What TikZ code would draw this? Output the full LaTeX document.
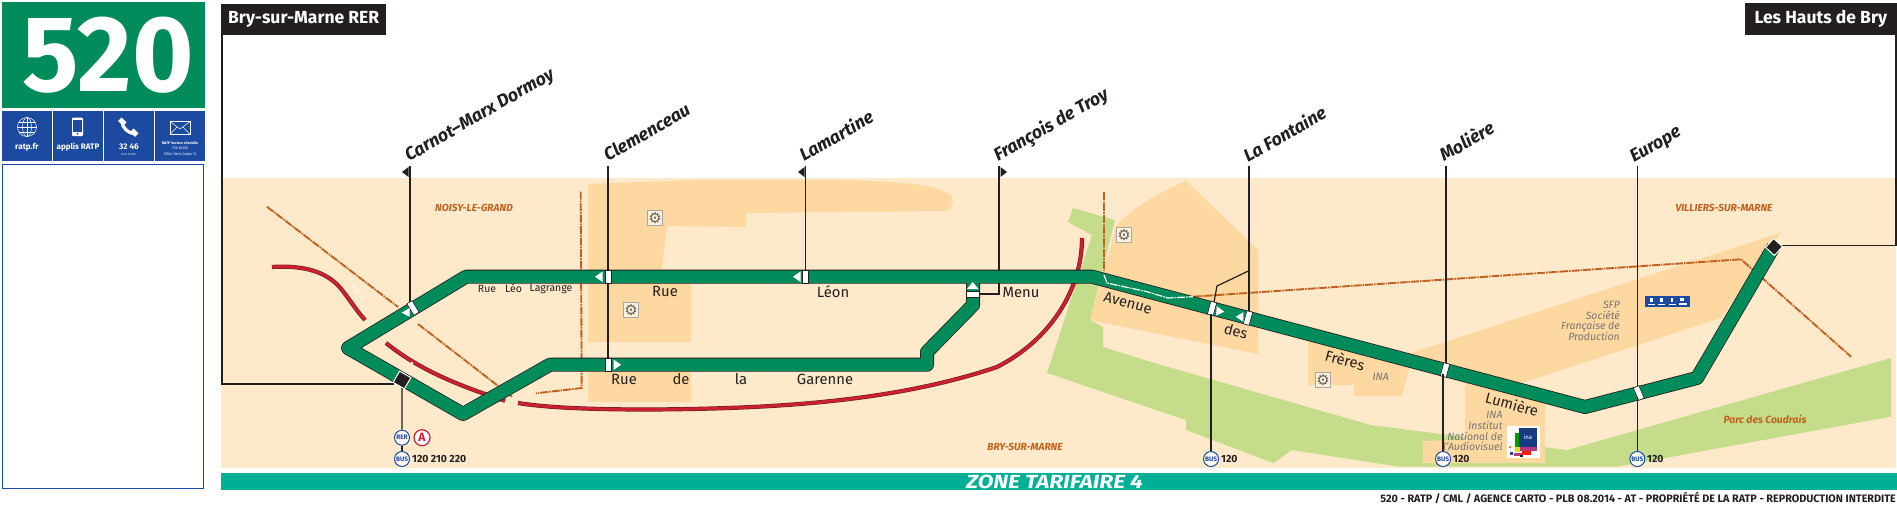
\documentclass[tikz,border=0pt]{standalone}
\usepackage{fontspec}
\setmainfont{Fira Sans}
\newfontfamily\dejavu{DejaVu Sans}
\usetikzlibrary{calc}
\definecolor{lgreen}{HTML}{008C5A}
\definecolor{rblue}{HTML}{1C4AA0}
\definecolor{ink}{HTML}{231F20}
\definecolor{bgb}{HTML}{FEE9CB}
\definecolor{dkb}{HTML}{FDD8A0}
\definecolor{park}{HTML}{C5DD8A}
\definecolor{orng}{HTML}{C0621E}
\definecolor{redl}{HTML}{CC2030}
\definecolor{teal}{HTML}{00B096}
\definecolor{greyt}{HTML}{757575}
\newcommand{\fsz}[1]{\fontsize{#1}{#1}\selectfont}
\tikzset{
  x=1pt,y=-1pt,
  stem/.style={draw=ink,line width=1.2pt},
  stopbox/.style={draw=ink,fill=white,line width=.6pt,minimum width=6pt,minimum height=13.5pt,inner sep=0pt},
  termstop/.style={draw=white,fill=ink,line width=1pt,minimum width=13pt,minimum height=13pt,inner sep=0pt},
  wtri/.style={fill=white,draw=none},
  flagtri/.style={fill=ink,draw=none},
  stationlabel/.style={rotate=30,anchor=base west,inner sep=0pt,font=\fsz{17.8}\bfseries\itshape,text=ink},
  termlabel/.style={fill=ink,text=white,inner sep=0pt,font=\fsz{17.5}\bfseries},
  street/.style={inner sep=0pt,text=ink,font=\fsz{14.8}},
  smallstreet/.style={inner sep=0pt,text=ink,font=\fsz{10.5}},
  city/.style={inner sep=0pt,text=orng,font=\fsz{10.2}\bfseries\itshape},
  poi/.style={inner sep=0pt,text=greyt,font=\fsz{10.5}\itshape,align=right},
  oline/.style={draw=orng,line width=1.9pt,dash pattern=on 8pt off 1pt on 1.5pt off 1pt},
  redout/.style={draw=ink!60!redl,line width=4.2pt},
  redin/.style={draw=redl,line width=3pt},
  gearbox/.style={draw=gray!70,fill=bgb!70,line width=.6pt,minimum size=15pt,inner sep=0pt,font=\fsz{15}\dejavu,text=greyt!85!black},
  buscirc/.style={circle,draw=rblue,fill=white,line width=1pt,minimum size=15pt,inner sep=0pt,text=rblue,font=\fsz{6.5}\bfseries},
  rercirc/.style={circle,draw=redl,fill=white,line width=1.2pt,minimum size=16pt,inner sep=0pt,text=redl,font=\fsz{12}\bfseries},
  busnum/.style={inner sep=0pt,anchor=west,text=ink,font=\fsz{10.4}\bfseries},
  panel/.style={fill=rblue,draw=none},
  paneltext/.style={inner sep=0pt,text=white,font=\fsz{8.2}\bfseries},
  tiny/.style={inner sep=0pt,text=white,font=\fsz{3.6}\bfseries},
}
\begin{document}
\begin{tikzpicture}
\useasboundingbox (0,0) rectangle (1897,504);
\fill[white] (0,0) rectangle (1897,504);
% ---- left column
\fill[lgreen] (2,2) rectangle (205,108);
\node[inner sep=0pt,text=white,font=\fsz{108}\bfseries,xscale=.975] (num) at (108,55) {520};
\fill[panel] (2,111) rectangle (52,161);
\fill[panel] (53,111) rectangle (103,161);
\fill[panel] (104,111) rectangle (154,161);
\fill[panel] (155,111) rectangle (205,161);
% globe
\begin{scope}[draw=white,line width=.5pt]
\draw (27,127) circle [radius=9.5pt];
\draw (27,127) ellipse [x radius=4.5pt,y radius=9.5pt];
\draw (27,117.5) -- (27,136.5);
\draw (17.5,127) -- (36.5,127);
\draw (19,122) -- (35,122);
\draw (19,132) -- (35,132);
\end{scope}
% mobile
\fill[white,rounded corners=1pt] (72,117.5) rectangle (83,136);
\fill[rblue] (73.3,120) rectangle (81.7,131.5);
\fill[rblue] (77.5,133.7) circle [radius=1pt];
% handset
\draw[white,line width=3.2pt] (122,121) .. controls (122,128) and (128,133) .. (135,134);
\fill[white,rotate around={-45:(122,122)}] (118.5,119) rectangle (125.5,124);
\fill[white,rotate around={-45:(134,133)}] (130.5,130) rectangle (137.5,135);
% envelope
\draw[white,line width=.5pt] (170,121.5) rectangle (190,134.5);
\draw[white,line width=.5pt] (170,121.5) -- (180,129) -- (190,121.5);
\draw[white,line width=.5pt] (170,134.5) -- (177,127);
\draw[white,line width=.5pt] (190,134.5) -- (183,127);
\node[paneltext] (t1) at (27,147) {ratp.fr};
\node[paneltext,font=\fsz{8}\bfseries] (t2) at (78,147) {applis RATP};
\node[paneltext] (t3) at (129,147) {32 46};
\node[tiny,font=\fsz{3}] (t3b) at (129,154.3) {0,34 €/min};
\node[tiny] (t4) at (180,143.3) {RATP Service clientèle};
\node[tiny,font=\fsz{3.6}] (t4b) at (180,148.5) {TSA 81250};
\node[tiny,font=\fsz{3.6}] (t4c) at (180,154) {75564 Paris Cedex 12};
\draw[draw=rblue,line width=1.2pt,fill=white] (2.8,164.5) rectangle (203.8,488.5);
% ---- map ground
\fill[bgb] (221,178) rectangle (1896,468);
% green spaces
\fill[park] (1073,208) -- (1115,220) -- (1090,320) -- (1103,327) -- (1103,347) -- (1150,361.7) -- (1370.6,425) -- (1465,437) -- (1567,450) -- (1891,358) -- (1891,416.7) -- (1617.6,466.7) -- (1399,466.7) -- (1291.5,450) -- (1273.7,463.3) -- (1186,430) -- (1186,420) -- (1150,408) -- (1047,373) -- (1092,235) -- (1068,222) -- cycle;
% built-up areas
\fill[dkb] (588,184) -- (700,180) -- (813,180) .. controls (900,180) and (953,185) .. (953,200) .. controls (953,207) and (948,211) .. (943,211) -- (746,213) -- (746,227) -- (667,226) -- (660,283) -- (588,283) -- cycle;
\fill[dkb] (588,283) rectangle (691,342);
\fill[dkb] (588,365) rectangle (691,402);
\fill[dkb] (1186,180.7) .. controls (1160,192) and (1125,212) .. (1116,227) -- (1090,320) -- (1258,354) -- (1258,250) -- cycle;
\fill[dkb] (1308,335) -- (1410,365) -- (1402,396) -- (1354,396) -- (1354,385) -- (1308,385) -- cycle;
\fill[dkb] (1780.7,232.7) -- (1411,353) -- (1450,375) -- (1521.7,383) -- (1720.7,318) -- cycle;
\fill[dkb] (1465,383) -- (1545,403) -- (1545,463) -- (1423,463) -- (1423,441) -- (1465,440) -- cycle;
% commune limits
\coordinate (oa) at (267,206.7); \coordinate (ob) at (398,307);
\coordinate (oc) at (418,324);   \coordinate (od) at (512,396.7);
\coordinate (oe) at (580.7,191.7); \coordinate (of) at (581.7,388); \coordinate (og) at (536,393.3);
\coordinate (oh) at (1104,191.7); \coordinate (oi) at (1104,271.7);
\coordinate (oj) at (1193,296.7); \coordinate (ok) at (1741,259.3); \coordinate (ol) at (1851,356.7);
\draw[oline] (oa) -- (ob);
\draw[oline] (oc) -- (od);
\draw[oline] (oe) -- (of) -- (og);
\draw[oline] (oh) -- (oi);
\draw[oline] (oj) -- (ok) -- (ol);
% railway
\foreach \s in {redout,redin}{
 \draw[\s] (272,267) .. controls (305,265) and (328,272) .. (342,290) .. controls (350,300) and (356,310) .. (365,320);
 \draw[\s] (386,343) .. controls (410,362) and (440,380) .. (505,400.7);
 \draw[\s] (518,403) .. controls (560,410) and (640,410) .. (690,409) .. controls (800,407) and (905,398) .. (997,367) .. controls (1050,340) and (1082,290) .. (1082,238);
}
\fill[white] (412,363) circle [radius=1.4pt];
\node[inner sep=0pt,rotate=-55,text=white,font=\fsz{7}\itshape] (sncf) at (358,292) {SNCF};
% stems
\coordinate (tCarnot) at (410,166);   \coordinate (fCarnot) at (410,302);
\coordinate (tClem) at (608,166);     \coordinate (fClem) at (608,358);
\coordinate (tLam) at (805.3,166);    \coordinate (fLam) at (805.3,271);
\coordinate (tFran) at (999,166);     \coordinate (fFran) at (999,271);
\coordinate (tFont) at (1249,166);    \coordinate (fFont) at (1249,312);
\coordinate (tMol) at (1446,166);     \coordinate (fMol) at (1446,368);
\coordinate (tEur) at (1637.3,166);   \coordinate (fEur) at (1637.3,388);
\draw[stem] (tCarnot) -- (fCarnot);
\draw[stem] (tClem) -- (fClem);
\draw[stem] (tLam) -- (fLam);
\draw[stem] (tFran) -- (fFran);
\draw[stem] (tFont) -- (fFont);
\draw[stem] (tMol) -- (fMol);
\draw[stem] (tEur) -- (fEur);
\coordinate (ta) at (222,35); \coordinate (tb) at (222,384); \coordinate (tc) at (394,384);
\draw[stem] (ta) -- (tb) -- (tc);
\coordinate (td) at (1896,35); \coordinate (te) at (1896,245.3); \coordinate (tf) at (1781,245.3);
\draw[stem] (td) -- (te) -- (tf);
% lower stems
\coordinate (sf) at (1211,314); \coordinate (sm) at (1443,374); \coordinate (se) at (1637.3,397);
% bus line
\coordinate (la) at (1773.5,247); \coordinate (lb) at (1697,378); \coordinate (lc) at (1585,407);
\coordinate (ld) at (1092,276.7); \coordinate (le) at (466,276.7); \coordinate (lf) at (348,348);
\coordinate (lg) at (463,414);    \coordinate (lh) at (550,364.7); \coordinate (li) at (927,364.7);
\coordinate (lj) at (927,352);    \coordinate (lk) at (973,305);   \coordinate (lm) at (973,276.7);
\draw[ink,line width=14pt,line join=round] (la) -- (lb) -- (lc) -- (ld) -- (le) -- (lf) -- (lg) -- (lh) -- (li) -- (lj) -- (lk) -- (lm);
\draw[lgreen,line width=12.4pt,line join=round] (la) -- (lb) -- (lc) -- (ld) -- (le) -- (lf) -- (lg) -- (lh) -- (li) -- (lj) -- (lk) -- (lm);
% commune limit over the line
\coordinate (wa) at (1104,275); \coordinate (wb) at (1107,283); \coordinate (wc) at (1147,291.7); \coordinate (wd) at (1168,298);
\draw[white,line width=1.2pt,dash pattern=on 8pt off 1pt on 1.5pt off 1pt] (wa) -- (wb) -- (wc) -- (wd) -- (oj);
% stops
\node[stopbox,rotate=31] (sCarnot) at (413,308) {};
\node[stopbox] (sClemA) at (608,276.7) {};
\node[stopbox] (sClemB) at (608,364.7) {};
\node[stopbox] (sLam) at (805.3,276.7) {};
\node[stopbox,rotate=90] (sFran) at (972.7,294.5) {};
\node[stopbox,rotate=-15] (sFontA) at (1212,308.5) {};
\node[stopbox,rotate=-15] (sFontB) at (1248,318) {};
\node[stopbox,rotate=-15] (sMol) at (1445,370) {};
\node[stopbox,rotate=23] (sEur) at (1638.7,393) {};
\node[termstop,rotate=-30] (sBry) at (402,380) {};
\node[termstop,rotate=-42,minimum width=12pt,minimum height=12pt] (sHauts) at (1774,247) {};
% direction arrows
\fill[wtri] (401.7,312.7) -- (409.5,308) -- (409.5,316.7) -- cycle;
\fill[wtri] (595,276.7) -- (602.5,271.5) -- (602.5,282) -- cycle;
\fill[wtri] (621,364.7) -- (613.5,359.5) -- (613.5,370) -- cycle;
\fill[wtri] (793,276.7) -- (800.5,271.5) -- (800.5,282) -- cycle;
\fill[wtri] (972.7,282) -- (978.5,289) -- (966.9,289) -- cycle;
\fill[wtri] (1216.7,306) -- (1224.3,311.7) -- (1216,315.7) -- cycle;
\fill[wtri] (1235.7,316.7) -- (1243.3,312.3) -- (1243.3,321.7) -- cycle;
% flags
\fill[flagtri] (402,172) -- (408.5,167) -- (408.5,177) -- cycle;
\fill[flagtri] (798,172) -- (804.5,167) -- (804.5,177) -- cycle;
\fill[flagtri] (1007,172) -- (1000.5,167) -- (1000.5,177) -- cycle;
% menu connector and other links
\coordinate (ma) at (980,294); \coordinate (mb) at (999,294); \coordinate (mc) at (999,283);
\draw[stem] (ma) -- (mb) -- (mc);
\coordinate (fa) at (1249,270.7); \coordinate (fb) at (1217,286); \coordinate (fc) at (1214,302);
\draw[stem] (fa) -- (fb) -- (fc);
% bus badges
\node[buscirc] (bBry) at (402,459) {BUS};
\node[buscirc] (rer) at (402,437.7) {RER};
\node[rercirc] (rerA) at (422,437.7) {A};
\node[buscirc] (bFont) at (1211,459) {BUS};
\node[buscirc] (bMol) at (1443,459) {BUS};
\node[buscirc] (bEur) at (1637.3,459) {BUS};
\draw[stem] (sBry) -- (rer);
\draw[stem] (rer) -- (bBry);
\draw[stem] (sf) -- (bFont);
\draw[stem] (sm) -- (bMol);
\draw[stem] (se) -- (bEur);
\node[busnum] (n1) at (412,458.5) {120 210 220};
\node[busnum] (n2) at (1221,459) {120};
\node[busnum] (n3) at (1453,459) {120};
\node[busnum] (n4) at (1647,459) {120};
% station names
\node[stationlabel] (lCarnot) at (409,162) {Carnot–Marx Dormoy};
\node[stationlabel] (lClem) at (608,162) {Clemenceau};
\node[stationlabel] (lLam) at (804,162) {Lamartine};
\node[stationlabel] (lFran) at (998,162) {François de Troy};
\node[stationlabel] (lFont) at (1248,163) {La Fontaine};
\node[stationlabel] (lMol) at (1444,162) {Molière};
\node[stationlabel] (lEur) at (1634,163) {Europe};
% terminals
\node[termlabel,anchor=north west,minimum width=165pt,minimum height=31pt] (termA) at (221,4) {Bry-sur-Marne RER};
\node[termlabel,anchor=north east,minimum width=152pt,minimum height=32pt] (termB) at (1897,3) {Les Hauts de Bry};
% streets
\node[smallstreet] (r1) at (487,288.5) {Rue};
\node[smallstreet] (r2) at (513.5,288.5) {Léo};
\node[smallstreet] (r3) at (551,288.5) {Lagrange};
\node[street] (r4) at (665,291) {Rue};
\node[street] (r5) at (833,292) {Léon};
\node[street] (r6) at (1021,292) {Menu};
\node[street] (r7) at (624,379) {Rue};
\node[street] (r8) at (681,379) {de};
\node[street] (r9) at (741,379) {la};
\node[street] (r10) at (825,379) {Garenne};
\node[street,rotate=-15] (r11) at (1128,303) {Avenue};
\node[street,rotate=-15] (r12) at (1236,331) {des};
\node[street,rotate=-15] (r13) at (1345,360) {Frères};
\node[street,rotate=-15] (r14) at (1512,404) {Lumière};
% places
\node[city] (c1) at (474,207.7) {NOISY-LE-GRAND};
\node[city] (c2) at (1025,446.7) {BRY-SUR-MARNE};
\node[city] (c3) at (1724,207.7) {VILLIERS-SUR-MARNE};
\node[city,font=\fsz{10.4}\itshape\bfseries] (c4) at (1765,419) {Parc des Coudrais};
\node[poi,anchor=east] (p1) at (1620,305) {SFP};
\node[poi,anchor=east] (p2) at (1620,315.7) {Société};
\node[poi,anchor=east] (p3) at (1620,326.7) {Française de};
\node[poi,anchor=east] (p4) at (1620,336.7) {Production};
\node[poi] (p5) at (1380.7,377) {INA};
\node[poi,anchor=east] (p6) at (1502.7,415) {INA};
\node[poi,anchor=east] (p7) at (1502.7,425) {Institut};
\node[poi,anchor=east] (p8) at (1502.7,436) {National de};
\node[poi,anchor=east] (p9) at (1502.7,446) {l’Audiovisuel};
% gears
\node[gearbox] (g1) at (655,217.7) {⚙};
\node[gearbox] (g2) at (631,310) {⚙};
\node[gearbox] (g3) at (1124,234.7) {⚙};
\node[gearbox] (g4) at (1323,380) {⚙};
% mini info panel
\fill[rblue] (1645,296) rectangle (1689.6,306.7);
\fill[white] (1650,298) rectangle (1653,302);
\fill[white] (1647.5,303.5) rectangle (1655,304.5);
\fill[white] (1660,298) rectangle (1662.5,302);
\fill[white] (1657.5,303.5) rectangle (1665,304.5);
\fill[white] (1671,298) rectangle (1673,302);
\fill[white] (1669,303.5) rectangle (1676,304.5);
\fill[white] (1680,298) rectangle (1684,301);
\fill[white] (1678.5,303) rectangle (1687,305);
% INA logo
\fill[white] (1507,426) rectangle (1540,458);
\fill[green!60!black] (1515,433) rectangle (1519,447);
\fill[rblue!80!black] (1519,428) rectangle (1537,447);
\fill[magenta!70!black] (1519,447) rectangle (1537,451);
\fill[red!75!orange] (1522,451) rectangle (1531,455);
\fill[yellow!90!black] (1515,447) rectangle (1520,452);
\fill[rblue] (1510,452) rectangle (1513,455);
\fill[orange] (1509,446) rectangle (1511,448);
\fill[magenta!70!black] (1514,453) rectangle (1522,456);
\fill[ink] (1520,455) rectangle (1523,457);
\node[inner sep=0pt,text=white,font=\fsz{6}] (inat) at (1528,437) {ina};
% zone band
\fill[teal] (221,473) rectangle (1897,490);
\node[inner sep=0pt,text=white,font=\fsz{19}\bfseries\itshape,xscale=1.2] (zone) at (1054.5,481.5) {ZONE TARIFAIRE 4};
\node[inner sep=0pt,anchor=east,text=ink,font=\fsz{10.8}\bfseries] (foot) at (1896,497.5) {520 - RATP / CML / AGENCE CARTO - PLB 08.2014 - AT - PROPRIÉTÉ DE LA RATP - REPRODUCTION INTERDITE};
\end{tikzpicture}
\end{document}
